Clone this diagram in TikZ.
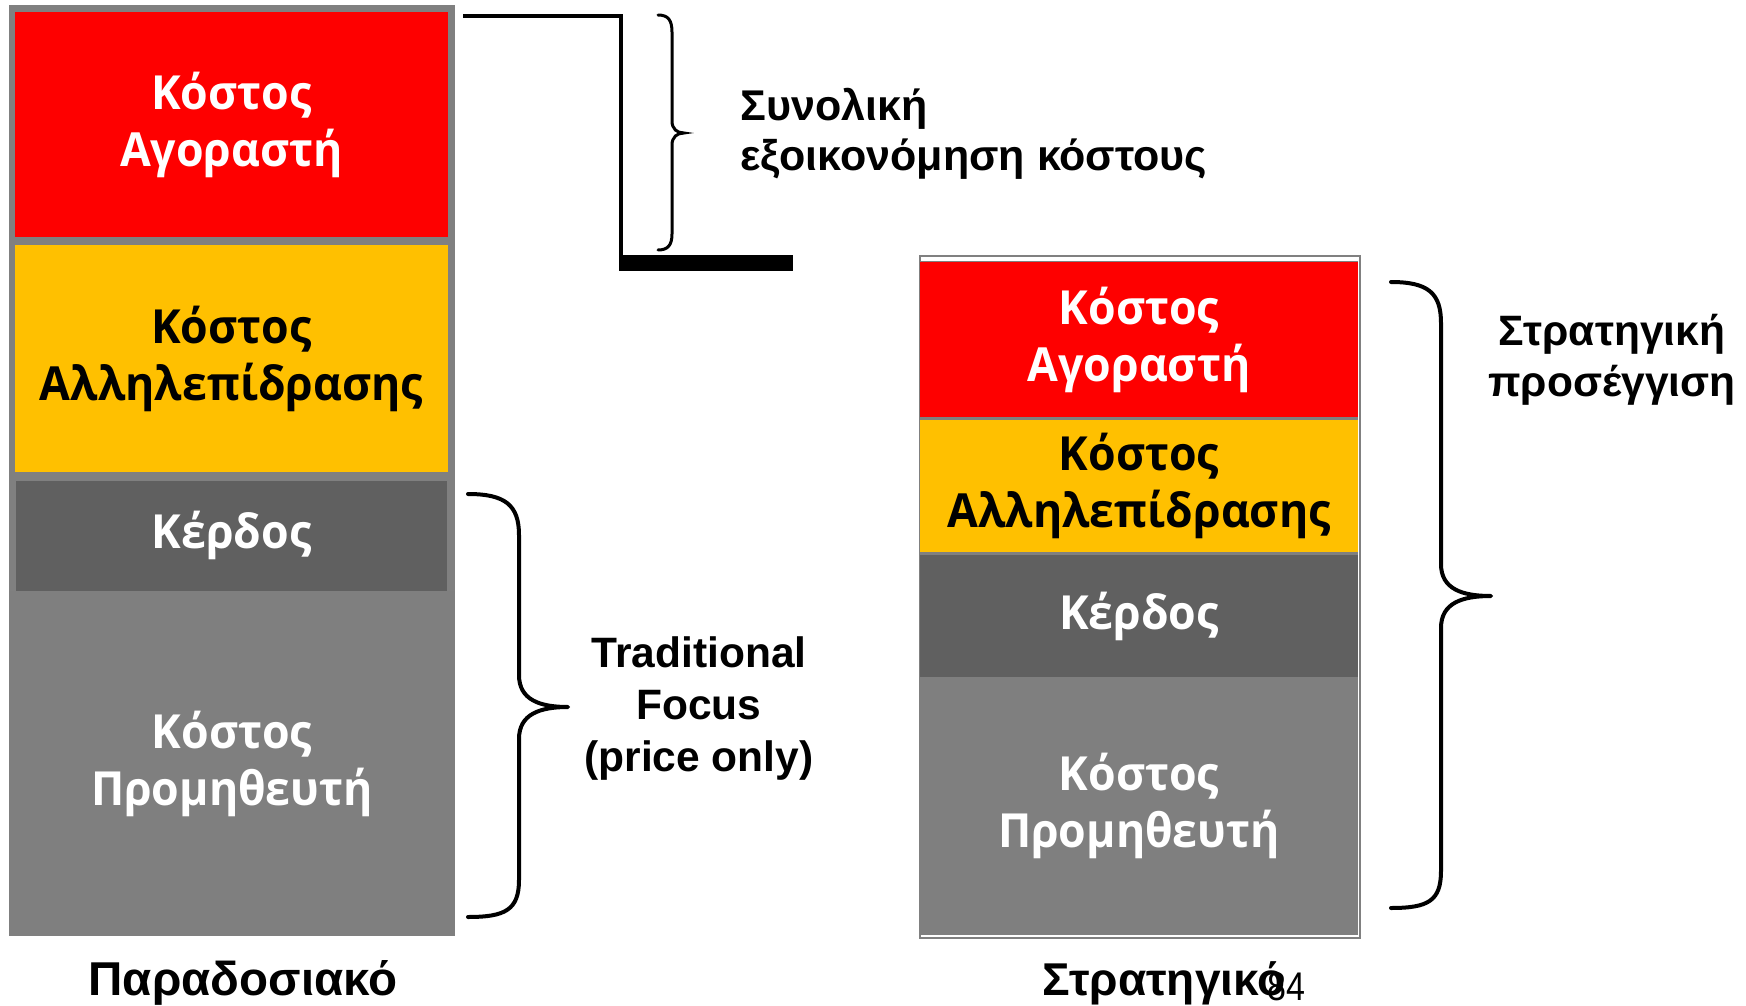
\documentclass[tikz,border=0pt]{standalone}
\usepackage{fontspec}
\setmainfont{Liberation Sans}
\newfontfamily\stackfont[FakeStretch=0.95]{Open Sans}
\newfontfamily\narrowfont[FakeStretch=0.85]{Liberation Sans}
\definecolor{buyred}{HTML}{FE0000}
\definecolor{interyellow}{HTML}{FFC000}
\definecolor{profitgray}{HTML}{606060}
\definecolor{supplygray}{HTML}{7F7F7F}
\definecolor{framegray}{HTML}{808080}
\begin{document}
\begin{tikzpicture}[x=1pt,y=-1pt,
  block/.style={inner sep=0pt, outer sep=0pt, align=center,
    font=\stackfont\bfseries\fontsize{47}{57}\selectfont},
  whitetext/.style={text=white},
  blacktext/.style={text=black},
  bracestroke/.style={line width=4pt, line cap=round, line join=round},
  wide label/.style={align=center, font=\bfseries\fontsize{42.5}{52}\selectfont},
  title label/.style={anchor=base, font=\bfseries\fontsize{46}{54}\selectfont}
]
\useasboundingbox (0,0) rectangle (1746,1006);

% traditional cost stack
\fill[framegray] (9,5) rectangle (455,936);
\node[block, whitetext, fill=buyred, minimum width=433pt, minimum height=225pt]
  (lbuy) at (231.5,124.5) {Κόστος\\Αγοραστή};
\node[block, blacktext, fill=interyellow, minimum width=433pt, minimum height=227pt]
  (linter) at (231.5,358.5) {Κόστος\\Αλληλεπίδρασης};
\node[block, whitetext, fill=profitgray, minimum width=431pt, minimum height=110pt]
  (lprofit) at (231.5,535.5) {Κέρδος};
\node[block, whitetext, fill=supplygray, minimum width=446pt, minimum height=345pt]
  (lsupply) at (232,763.5) {Κόστος\\Προμηθευτή};

% strategic cost stack
\fill[framegray] (920,261) rectangle (1358,935);
\draw[framegray, line width=2.5pt] (920,256) rectangle (1360,938);
\node[block, whitetext, fill=buyred, minimum width=438pt, minimum height=155pt]
  (rbuy) at (1139,339.5) {Κόστος\\Αγοραστή};
\node[block, blacktext, fill=interyellow, minimum width=438pt, minimum height=132pt]
  (rinter) at (1139,486) {Κόστος\\Αλληλεπίδρασης};
\node[block, whitetext, fill=profitgray, minimum width=438pt, minimum height=122pt]
  (rprofit) at (1139,616) {Κέρδος};
\node[block, whitetext, fill=supplygray, minimum width=438pt, minimum height=258pt]
  (rsupply) at (1139,806) {Κόστος\\Προμηθευτή};

% savings step between the two stacks
\draw[line width=4pt] (463,16) -- (621,16) -- (621,268);
\fill (619,255) rectangle (793,271);

% small brace for the total savings
\draw[line width=3pt, line cap=round] (658,15) .. controls (668,15) and (672,20) .. (672,32)
  -- (672,121) .. controls (672,129) and (677,133) .. (684,133)
  .. controls (677,133) and (672,137) .. (672,145)
  -- (672,234) .. controls (672,245) and (668,250) .. (658,250);

% brace over profit and supplier cost
\draw[bracestroke] (468,494) .. controls (505,494) and (519,505) .. (519,535)
  -- (519,675) .. controls (519,700) and (540,707) .. (568,707)
  .. controls (540,707) and (519,714) .. (519,739)
  -- (519,880) .. controls (519,910) and (505,917) .. (468,917);

% brace over the whole strategic stack
\draw[bracestroke] (1391,282) .. controls (1428,282) and (1441,293) .. (1441,323)
  -- (1441,564) .. controls (1441,589) and (1462,596) .. (1491,596)
  .. controls (1462,596) and (1441,603) .. (1441,628)
  -- (1441,871) .. controls (1441,901) and (1428,908) .. (1391,908);

% labels
\node[anchor=west, align=left, font=\bfseries\fontsize{43}{50}\selectfont]
  (savings) at (737,134) {Συνολική\\εξοικονόμηση κόστους};
\node[wide label] (traditional) at (699,709) {Traditional\\Focus\\(price only)};
\node[align=center, font=\bfseries\fontsize{42.5}{51}\selectfont]
  (approach) at (1612,360) {Στρατηγική\\προσέγγιση};
\node[title label, font=\bfseries\fontsize{47.5}{54}\selectfont] (oldmodel) at (243,995) {Παραδοσιακό};
\node[title label] (newmodel) at (1164,995) {Στρατηγικό};
\node[font=\narrowfont\fontsize{40}{48}\selectfont] (pagenum) at (1286,987) {84};
\end{tikzpicture}
\end{document}
